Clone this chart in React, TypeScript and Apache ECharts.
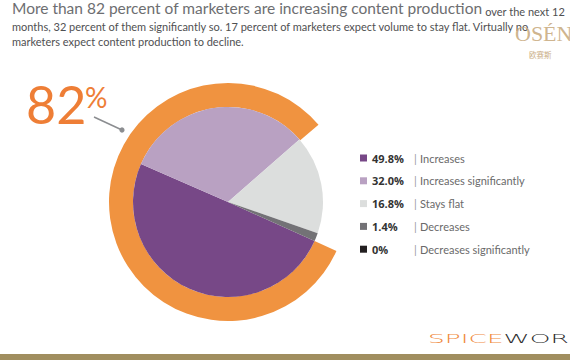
import React, { useEffect, useRef } from "react";
import * as echarts from "echarts";

const categories = ["Increases", "Increases significantly", "Stays flat", "Decreases", "Decreases significantly"];
const shares = [49.8, 32.0, 16.8, 1.4, 0];
const sliceColors = ["#774887", "#b9a1c2", "#dcdedd", "#737276", "#231f20"];
const increasingShare = 82;
const headlineBig = "More than 82 percent of marketers are increasing content production";
const headlineSmall = " over the next 12";
const headlineLine2 = "months, 32 percent of them significantly so. 17 percent of marketers expect volume to stay flat. Virtually no";
const headlineLine3 = "marketers expect content production to decline.";

const FONT = "Lato, 'Open Sans', sans-serif";
const ORANGE_RING = "#f09340";
const ORANGE_TEXT = "#ee7e36";

function fmtShare(v: number): string {
  return v === 0 ? "0%" : v.toFixed(1) + "%";
}

export default function App() {
  const ref = useRef<HTMLDivElement>(null);
  useEffect(() => {
    if (!ref.current) return;
    const chart = echarts.init(ref.current, undefined, { renderer: "svg" });
    const center = [228, 202];
    chart.setOption({
      animation: false,
      backgroundColor: "#ffffff",
      legend: {
        orient: "vertical",
        left: 360,
        top: 151,
        padding: 0,
        icon: "rect",
        itemWidth: 7,
        itemHeight: 7,
        itemGap: 8.8,
        selectedMode: false,
        data: categories,
        formatter: (name: string) => {
          const i = categories.indexOf(name);
          return `{v|${fmtShare(shares[i])}}{s||}{n|${name}}`;
        },
        textStyle: {
          fontFamily: FONT,
          fontSize: 11,
          lineHeight: 14,
          rich: {
            v: { fontFamily: "'Open Sans', sans-serif", fontSize: 11, fontWeight: "bold", color: "#333333", width: 42, lineHeight: 14 },
            s: { fontFamily: FONT, fontSize: 11, color: "#9a9a9a", width: 6, lineHeight: 14 },
            n: { fontFamily: FONT, fontSize: 11, color: "#6a6a6a", lineHeight: 14 },
          },
        },
      },
      series: [
        {
          type: "pie",
          center,
          radius: [95, 119],
          startAngle: -24.3,
          clockwise: true,
          silent: true,
          label: { show: false },
          labelLine: { show: false },
          emphasis: { disabled: true },
          itemStyle: { borderWidth: 0 },
          data: [
            { name: "ring", value: increasingShare, itemStyle: { color: ORANGE_RING } },
            { name: "rest", value: 100 - increasingShare, itemStyle: { color: "rgba(0,0,0,0)" } },
          ],
        },
        {
          type: "pie",
          center,
          radius: [0, 95],
          startAngle: -24.3,
          clockwise: true,
          silent: true,
          label: { show: false },
          labelLine: { show: false },
          emphasis: { disabled: true },
          itemStyle: { borderWidth: 0 },
          data: categories.map((c, i) => ({ name: c, value: shares[i], itemStyle: { color: sliceColors[i] } })),
        },
      ],
      graphic: [
        {
          type: "text",
          x: 12,
          y: 7.9,
          style: {
            text: `{a|${headlineBig}}{b|${headlineSmall}}`,
            verticalAlign: "middle",
            rich: {
              a: { fontFamily: FONT, fontSize: 15.5, fill: "#6d6e71", lineHeight: 18 },
              b: { fontFamily: FONT, fontSize: 11, fill: "#4f5052", lineHeight: 14, verticalAlign: "bottom" },
            },
          },
        },
        {
          type: "text",
          x: 12,
          y: 26.6,
          style: { text: headlineLine2, fontFamily: FONT, fontSize: 11, fill: "#4f5052", verticalAlign: "middle" },
        },
        {
          type: "text",
          x: 12,
          y: 41.6,
          style: { text: headlineLine3, fontFamily: FONT, fontSize: 11, fill: "#4f5052", verticalAlign: "middle" },
        },
        {
          type: "text",
          x: 515,
          y: 33,
          style: { text: "OSÉN", fontFamily: "'Liberation Serif', serif", fontSize: 22, fill: "#c9ab7f", opacity: 0.9, verticalAlign: "middle" },
        },
        {
          type: "text",
          x: 529,
          y: 54,
          style: { text: "欧赛斯", fontFamily: "'Noto Sans CJK SC', sans-serif", fontSize: 7.5, fill: "#c9ab7f", verticalAlign: "middle" },
        },
        {
          type: "text",
          x: 26,
          y: 104,
          style: { text: String(increasingShare), fontFamily: FONT, fontSize: 52, fill: ORANGE_TEXT, verticalAlign: "middle" },
        },
        {
          type: "text",
          x: 85,
          y: 97,
          style: { text: "%", fontFamily: FONT, fontSize: 28, fill: ORANGE_TEXT, verticalAlign: "middle" },
        },
        {
          type: "line",
          shape: { x1: 94, y1: 117, x2: 122, y2: 130 },
          style: { stroke: "#8b8d90", lineWidth: 1.5 },
        },
        {
          type: "circle",
          shape: { cx: 122, cy: 130, r: 2.6 },
          style: { fill: "#8b8d90" },
        },
        {
          type: "text",
          x: 428,
          y: 338.5,
          scaleX: 2.2,
          style: {
            text: "{o|SPICE}{d|WORKS}",
            verticalAlign: "middle",
            rich: {
              o: { fontFamily: "'DejaVu Sans', sans-serif", fontSize: 12, fontWeight: 200, fill: "#f08a3c" },
              d: { fontFamily: "'DejaVu Sans', sans-serif", fontSize: 12, fontWeight: 200, fill: "#2d2d2d" },
            },
          },
        },
        {
          type: "rect",
          shape: { x: 0, y: 354, width: 570, height: 6 },
          style: { fill: "#a08e5f" },
        },
      ],
    });
    return () => chart.dispose();
  }, []);
  return (
    <div
      ref={ref}
      style={{ position: "fixed", left: 0, top: 0, width: 570, height: 360, background: "#fff" }}
    />
  );
}
